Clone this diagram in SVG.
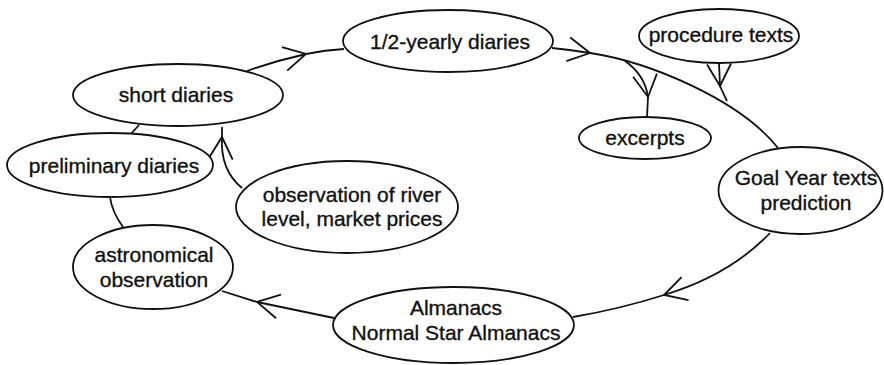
<svg xmlns="http://www.w3.org/2000/svg" width="884" height="365" viewBox="0 0 884 365">
<defs>
<style>
.n ellipse{fill:#fff;stroke:#111;stroke-width:1.8}
text{font-family:"Liberation Sans",Arial,sans-serif;font-size:21px;fill:#111;stroke:#111;stroke-width:0.35;text-anchor:middle}
.c path{fill:none;stroke:#111;stroke-width:1.8}
</style>
<marker id="chev" viewBox="-2 -2 28 28" refX="22" refY="12" markerWidth="28" markerHeight="28" markerUnits="userSpaceOnUse" orient="auto" overflow="visible">
<path d="M0,0 L22,12 L0,24" fill="none" stroke="#111" stroke-width="1.8"/>
</marker>
</defs>
<rect width="884" height="365" fill="#fff"/>
<g id="connectors" class="c">
<path d="M247,71 Q275,61 306,54" marker-end="url(#chev)"/>
<path d="M306,54 Q325,50 344,49"/>
<path d="M552,48 Q572,50 590,53" marker-end="url(#chev)"/>
<path d="M590,53 C650,62 740,100 778,148"/>
<path d="M625,61 Q645,75 648,97" marker-end="url(#chev)"/>
<path d="M648,97 L647,117"/>
<path d="M719,63 L720,86" marker-end="url(#chev)"/>
<path d="M720,86 Q724,95 727,101"/>
<path d="M770,233 Q730,275 664,295" marker-end="url(#chev)"/>
<path d="M664,295 Q620,309 573,317"/>
<path d="M334,318 L257,302" marker-end="url(#chev)"/>
<path d="M257,302 L222,291"/>
<path d="M123,227 Q112,212 110,197"/>
<path d="M130,135 L139,125"/>
<path d="M242,188 Q220,170 222,137" marker-end="url(#chev)"/>
<path d="M222,137 L222,127"/>
</g>
<g id="short-diaries" class="n"><ellipse cx="178" cy="95" rx="105" ry="31"/><text x="176" y="102">short diaries</text></g>
<g id="half-yearly-diaries" class="n"><ellipse cx="448" cy="41" rx="105" ry="31"/><text x="450" y="49">1/2-yearly diaries</text></g>
<g id="procedure-texts" class="n"><ellipse cx="719" cy="36" rx="80" ry="27"/><text x="721" y="42">procedure texts</text></g>
<g id="excerpts" class="n"><ellipse cx="645" cy="138" rx="66" ry="21"/><text x="645" y="145">excerpts</text></g>
<g id="goal-year" class="n"><ellipse cx="800.5" cy="190.5" rx="82" ry="43.5"/><text x="806" y="185">Goal Year texts</text><text x="806" y="210">prediction</text></g>
<g id="preliminary-diaries" class="n"><ellipse cx="110" cy="165" rx="103" ry="32"/><text x="114" y="173">preliminary diaries</text></g>
<g id="observation-river" class="n"><ellipse cx="347" cy="207" rx="111" ry="46"/><text x="352" y="202">observation of river</text><text x="352" y="226">level, market prices</text></g>
<g id="astronomical" class="n"><ellipse cx="153" cy="267" rx="80" ry="42"/><text x="154" y="262">astronomical</text><text x="154" y="287">observation</text></g>
<g id="almanacs" class="n"><ellipse cx="453.5" cy="325" rx="120.5" ry="38"/><text x="456" y="315">Almanacs</text><text x="456" y="340">Normal Star Almanacs</text></g>
</svg>
